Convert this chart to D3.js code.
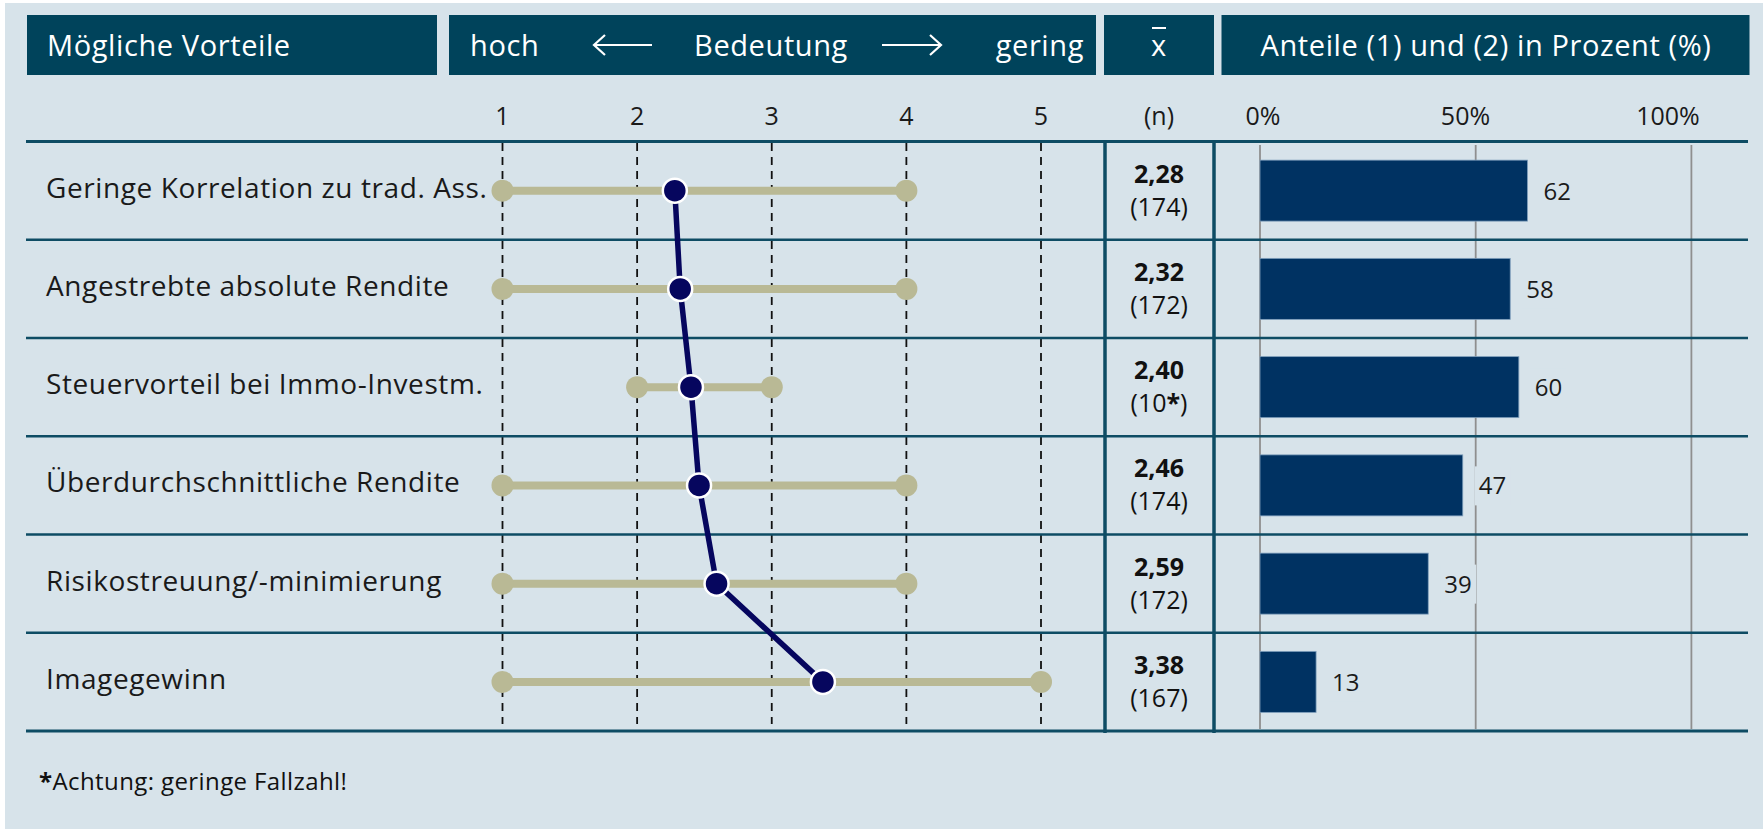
<!doctype html>
<html>
<head>
<meta charset="utf-8">
<style>
  body { margin: 0; background: #ffffff; }
  svg { display: block; font-family: "Open Sans", sans-serif; }
</style>
<script src="https://cdn.jsdelivr.net/npm/d3@7"></script>
</head>
<body>
<svg width="1763" height="829"></svg>
<script>
// data
var labels = ["Geringe Korrelation zu trad. Ass.", "Angestrebte absolute Rendite", "Steuervorteil bei Immo-Investm.",
              "Überdurchschnittliche Rendite", "Risikostreuung/-minimierung", "Imagegewinn"];
var means = [2.28, 2.32, 2.40, 2.46, 2.59, 3.38];
var counts = ["174", "172", "10*", "174", "172", "167"];
var rangeLow = [1, 1, 2, 1, 1, 1];
var rangeHigh = [4, 4, 3, 4, 4, 5];
var shares = [62, 58, 60, 47, 39, 13];
var scaleTicks = [1, 2, 3, 4, 5];
var pctTicks = [0, 50, 100];

var headBg = "#00435b", lineCol = "#0e4c64";

var svg = d3.select("svg");
svg.append("rect").attr("x", 5).attr("y", 3).attr("width", 1758).attr("height", 826).attr("fill", "#d7e3ea");

var x = d3.scaleLinear().domain([1, 5]).range([502.5, 1041]);
var y = d3.scaleBand().domain(labels).range([141.5, 731]);
var xp = d3.scaleLinear().domain([0, 100]).range([1260, 1691.4]);
// percent labels sit a bit left of their gridlines in the original
var xpLabel = d3.scaleLinear().domain([0, 100]).range([1263, 1668]);
var bh = y.bandwidth();
function cy(d) { return y(d) + bh / 2; }

// header boxes
var heads = [[27, 437], [449, 1096], [1104, 1214], [1221.5, 1749.5]];
svg.selectAll(".head").data(heads).enter().append("rect")
  .attr("x", function(d) { return d[0]; }).attr("y", 15)
  .attr("width", function(d) { return d[1] - d[0]; }).attr("height", 60)
  .attr("fill", headBg);

var ht = svg.append("g").attr("fill", "#fff")
  .style("font-size", "29px").style("letter-spacing", "0.6px");
ht.append("text").attr("x", 47).attr("y", 56).text("Mögliche Vorteile");
ht.append("text").attr("x", 470).attr("y", 56).text("hoch");
ht.append("text").attr("x", 771).attr("y", 56).attr("text-anchor", "middle").text("Bedeutung");
ht.append("text").attr("x", 1084).attr("y", 56).attr("text-anchor", "end").text("gering");
ht.append("text").attr("x", 1159).attr("y", 56).attr("text-anchor", "middle").text("x");
ht.append("line").attr("x1", 1152).attr("x2", 1166).attr("y1", 28).attr("y2", 28).attr("stroke", "#fff").attr("stroke-width", 2);
ht.append("text").attr("x", 1486).attr("y", 56).attr("text-anchor", "middle").text("Anteile (1) und (2) in Prozent (%)");

// arrows in the header
var arrows = [[652, 594], [882, 941]];
arrows.forEach(function(a) {
  var dir = a[1] > a[0] ? 1 : -1;
  var g = svg.append("g").attr("stroke", "#fff").attr("stroke-width", 2.2).attr("fill", "none");
  g.append("line").attr("x1", a[0]).attr("x2", a[1]).attr("y1", 45).attr("y2", 45);
  g.append("path").attr("d", d3.line()([[a[1] - dir * 11, 35], [a[1], 45], [a[1] - dir * 11, 55]]));
});

// second header row: scale ticks, (n), percent
var tk = svg.append("g").attr("fill", "#1a1a1a").style("font-size", "25px").attr("text-anchor", "middle");
tk.selectAll(".st").data(scaleTicks).enter().append("text")
  .attr("x", function(d) { return x(d); }).attr("y", 125).text(function(d) { return d; });
tk.append("text").attr("x", 1159).attr("y", 125).text("(n)");
tk.selectAll(".pt").data(pctTicks).enter().append("text")
  .attr("x", function(d) { return xpLabel(d); }).attr("y", 125).text(function(d) { return d + "%"; });

// percent gridlines
svg.selectAll(".grid").data(pctTicks).enter().append("line")
  .attr("x1", function(d) { return xp(d); }).attr("x2", function(d) { return xp(d); })
  .attr("y1", 145).attr("y2", 729)
  .attr("stroke", "#8f8f8f").attr("stroke-width", 1.8);

// dashed scale lines
svg.selectAll(".dash").data(scaleTicks).enter().append("line")
  .attr("x1", function(d) { return x(d); }).attr("x2", function(d) { return x(d); })
  .attr("y1", 143).attr("y2", 724)
  .attr("stroke", "#111").attr("stroke-width", 1.8).attr("stroke-dasharray", "8,6");

// row lines
var edges = labels.map(function(d) { return y(d); }).concat([y.range()[1]]);
svg.selectAll(".row").data(edges).enter().append("line")
  .attr("x1", 26).attr("x2", 1748)
  .attr("y1", function(d) { return d; }).attr("y2", function(d) { return d; })
  .attr("stroke", lineCol)
  .attr("stroke-width", function(d, i) { return (i == 0 || i == edges.length - 1) ? 3 : 2.4; });

// column separators
[1105, 1214].forEach(function(cx) {
  svg.append("line").attr("x1", cx).attr("x2", cx).attr("y1", 141).attr("y2", 733)
    .attr("stroke", lineCol).attr("stroke-width", 3.5);
});

// row labels
svg.selectAll(".lab").data(labels).enter().append("text")
  .attr("x", 46).attr("y", function(d) { return cy(d) + 7; })
  .attr("fill", "#1a1a1a").style("font-size", "28px").style("letter-spacing", "0.6px")
  .text(function(d) { return d; });

// range bars
var rg = svg.append("g");
rg.selectAll(".rl").data(labels).enter().append("line")
  .attr("x1", function(d, i) { return x(rangeLow[i]); }).attr("x2", function(d, i) { return x(rangeHigh[i]); })
  .attr("y1", function(d) { return cy(d); }).attr("y2", function(d) { return cy(d); })
  .attr("stroke", "#b9b995").attr("stroke-width", 8);
labels.forEach(function(d, i) {
  [rangeLow[i], rangeHigh[i]].forEach(function(v) {
    rg.append("circle").attr("cx", x(v)).attr("cy", cy(d)).attr("r", 11).attr("fill", "#b9b995");
  });
});

// mean profile line and dots
var meanPts = labels.map(function(d, i) { return [x(means[i]), cy(d)]; });
svg.append("path").attr("d", d3.line()(meanPts))
  .attr("fill", "none").attr("stroke", "#06065e").attr("stroke-width", 5.5);
svg.selectAll(".md").data(meanPts).enter().append("circle")
  .attr("cx", function(d) { return d[0]; }).attr("cy", function(d) { return d[1]; })
  .attr("r", 12).attr("fill", "#06065e").attr("stroke", "#fff").attr("stroke-width", 2.5);

// mean and n column
var fmt = function(v) { return v.toFixed(2).replace(".", ","); };
var mc = svg.append("g").attr("text-anchor", "middle").attr("fill", "#111").style("font-size", "25px");
labels.forEach(function(d, i) {
  mc.append("text").attr("x", 1159).attr("y", cy(d) - 8).style("font-weight", "bold").text(fmt(means[i]));
  var t = mc.append("text").attr("x", 1159).attr("y", cy(d) + 25);
  var n = counts[i];
  if (n.indexOf("*") >= 0) {
    t.append("tspan").text("(" + n.replace("*", ""));
    t.append("tspan").style("font-weight", "bold").text("*");
    t.append("tspan").text(")");
  } else {
    t.text("(" + n + ")");
  }
});

// share bars
svg.selectAll(".bar").data(labels).enter().append("rect")
  .attr("x", xp(0)).attr("y", function(d) { return cy(d) - 30.5; })
  .attr("width", function(d, i) { return xp(shares[i]) - xp(0); }).attr("height", 61)
  .attr("fill", "#003262").attr("stroke", "#7f9fbc").attr("stroke-width", 0.8);

// value labels with background patch
labels.forEach(function(d, i) {
  var lx = xp(shares[i]) + 16;
  svg.append("rect").attr("x", lx - 4).attr("y", cy(d) - 19).attr("width", 36).attr("height", 39)
    .attr("fill", "#d7e3ea");
  svg.append("text").attr("x", lx).attr("y", cy(d) + 9).attr("fill", "#1a1a1a")
    .style("font-size", "24px").text(shares[i]);
});

// footnote
var fn = svg.append("text").attr("x", 39).attr("y", 790).attr("fill", "#111")
  .style("font-size", "24px").style("letter-spacing", "0.4px");
fn.append("tspan").style("font-weight", "bold").text("*");
fn.append("tspan").text("Achtung: geringe Fallzahl!");
</script>
</body>
</html>
